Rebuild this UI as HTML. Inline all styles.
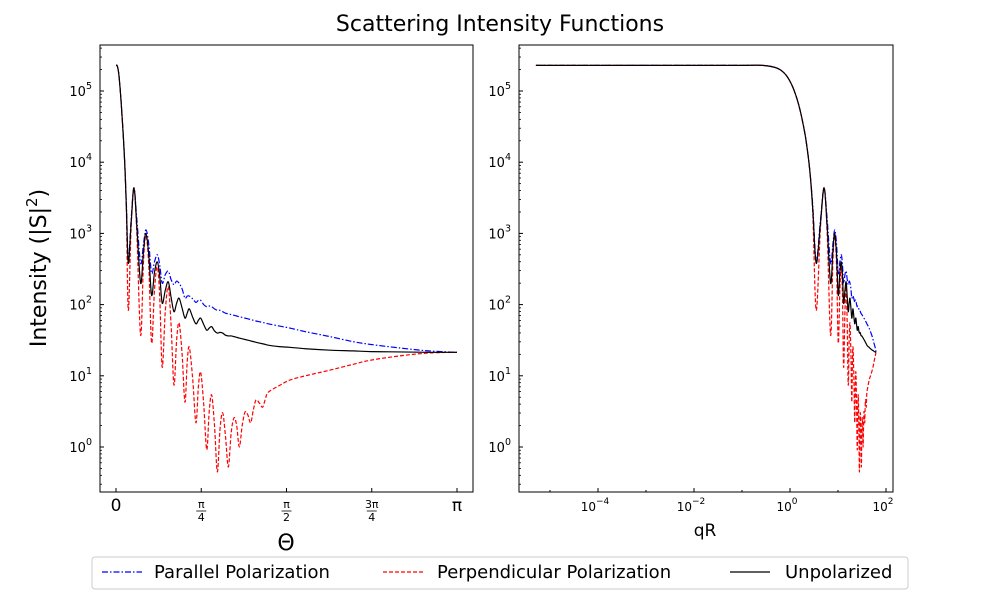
<!DOCTYPE html>
<html><head><meta charset="utf-8"><style>
body{margin:0;background:#fff;font-family:"Liberation Sans","DejaVu Sans",sans-serif}
svg text{font-family:"DejaVu Sans","Liberation Sans",sans-serif}
</style></head><body>
<svg id="chart" width="1000" height="600" viewBox="0 0 1000 600" xmlns="http://www.w3.org/2000/svg">
<rect width="1000" height="600" fill="#fff"/>
<text x="500" y="31" text-anchor="middle" font-size="22">Scattering Intensity Functions</text>
<text transform="translate(46,268) rotate(-90)" text-anchor="middle" font-size="22">Intensity (|S|<tspan font-size="15" dy="-9">2</tspan><tspan dy="9">)</tspan></text>
<text x="286" y="550" text-anchor="middle" font-size="22">Θ</text>
<text x="705" y="536" text-anchor="middle" font-size="17">qR</text>
<g id="left"></g>
<g id="right"></g>
<g>
<rect x="92" y="557" width="816" height="32" rx="3" fill="#fff" stroke="#ccc"/>
<g><line x1="102" y1="572" x2="142" y2="572" stroke="#00f" stroke-width="1.3" stroke-dasharray="6,2,1.5,2"/><text x="154" y="578" font-size="18">Parallel Polarization</text></g>
<g><line x1="383" y1="572" x2="423" y2="572" stroke="#f00" stroke-width="1.3" stroke-dasharray="4,2"/><text x="437" y="578" font-size="18">Perpendicular Polarization</text></g>
<g><line x1="730" y1="572" x2="770" y2="572" stroke="#000" stroke-width="1.3"/><text x="785" y="578" font-size="18">Unpolarized</text></g>
</g>
</svg>
<script>
const thetaDeg=[0.0000094,0.00005,0.0003,0.002,0.01,0.05,0.2,0.5,1,1.5,2,2.5,3,3.5,4,4.75,5.5,6.5,8,9.5,11,13,14.5,15.8,17.3,18.8,20.3,21.8,23.1,24.4,26,27.6,29.1,30.6,32,33.3,34.9,36.4,37.6,38.7,40.5,42.2,43.5,44.7,46.3,47.9,49.2,50.5,52,53.5,54.9,56.3,57.8,59.3,60.8,62.3,63.7,65.1,66.6,68.1,69.6,71.1,72.5,73.9,75.6,77.4,78.9,80.4,86,91.8,100,113,125,134.6,150,165,180];
const parLog=[5.36,5.36,5.36,5.36,5.36,5.36,5.36,5.36,5.32,5.23,5.09,4.92,4.73,4.52,4.3,3.9,3.4,2.62,3.2,3.64,3.2,2.58,2.85,3.05,2.85,2.44,2.6,2.7,2.55,2.3,2.42,2.47,2.35,2.28,2.33,2.3,2.22,2.09,2.12,2.12,2.08,2.03,2.06,2.06,2.0,1.97,1.98,1.97,1.94,1.92,1.92,1.9,1.88,1.87,1.86,1.85,1.84,1.83,1.82,1.81,1.8,1.79,1.78,1.77,1.76,1.75,1.74,1.73,1.7,1.67,1.62,1.55,1.48,1.44,1.39,1.35,1.33];
const perpLog=[5.36,5.36,5.36,5.36,5.36,5.36,5.36,5.36,5.32,5.23,5.09,4.92,4.73,4.52,4.3,3.9,3.3,1.92,3.1,3.64,3.0,1.57,2.6,2.97,2.55,1.46,2.2,2.53,2.1,1.12,1.9,2.25,1.7,0.87,1.5,1.74,1.3,0.63,1.2,1.40,0.95,0.34,0.85,1.05,0.6,-0.04,0.5,0.73,0.3,-0.35,0.25,0.48,0.15,-0.28,0.2,0.41,0.3,0.0,0.3,0.49,0.45,0.34,0.52,0.66,0.62,0.56,0.68,0.77,0.86,0.94,1.0,1.08,1.16,1.22,1.28,1.32,1.33];
const unpLog=[5.36,5.36,5.36,5.36,5.36,5.36,5.36,5.36,5.32,5.23,5.09,4.92,4.73,4.52,4.3,3.9,3.35,2.58,3.15,3.64,3.1,2.30,2.75,3.0,2.7,2.13,2.45,2.6,2.4,2.02,2.2,2.32,2.1,1.90,2.02,2.09,1.95,1.81,1.88,1.94,1.82,1.73,1.78,1.81,1.72,1.64,1.67,1.69,1.63,1.60,1.61,1.6,1.57,1.56,1.56,1.55,1.54,1.53,1.52,1.51,1.5,1.49,1.48,1.47,1.46,1.45,1.44,1.43,1.41,1.40,1.38,1.36,1.35,1.34,1.335,1.33,1.33];
const kR2=62;
const yTicks=[0,1,2,3,4,5];
const thetaTickLabels=["0","π/4","π/2","3π/4","π"];
const qrTicks=[-4,-2,0,2];

const NS="http://www.w3.org/2000/svg";
function mk(tag,attrs,parent){const e=document.createElementNS(NS,tag);for(const k in attrs)e.setAttribute(k,attrs[k]);parent.appendChild(e);return e;}
const yTop=45,yBot=492;
const yOf=v=>447-(v)*71.2;
const xL=d=>116+d/180*341;
const xR=q=>790+Math.log10(q)*48;
const qOf=d=>kR2*Math.sin(d*Math.PI/360);
function pathD(pts){let d="M"+pts[0][0].toFixed(2)+","+pts[0][1].toFixed(2);
 for(let i=0;i<pts.length-1;i++){const p0=pts[Math.max(0,i-1)],p1=pts[i],p2=pts[i+1],p3=pts[Math.min(pts.length-1,i+2)];
 const t=0.5/3;d+=" C"+(p1[0]+(p2[0]-p0[0])*t).toFixed(2)+","+(p1[1]+(p2[1]-p0[1])*t).toFixed(2)+" "+(p2[0]-(p3[0]-p1[0])*t).toFixed(2)+","+(p2[1]-(p3[1]-p1[1])*t).toFixed(2)+" "+p2[0].toFixed(2)+","+p2[1].toFixed(2);}
 return d;}
const series=[[parLog,"#00f","6,2,1.5,2","parallel-line"],[perpLog,"#f00","4,2","perpendicular-line"],[unpLog,"#000","","unpolarized-line"]];
function panel(g,x0,x1,xf,name){
 mk("rect",{x:x0,y:yTop,width:x1-x0,height:yBot-yTop,fill:"#fff"},g);
 const cid="clip"+name;const cp=mk("clipPath",{id:cid},g);mk("rect",{x:x0,y:yTop,width:x1-x0,height:yBot-yTop},cp);
 series.forEach(s=>{const pts=thetaDeg.map((d,i)=>[xf(d),yOf(s[0][i])]);
  const p=mk("path",{d:pathD(pts),fill:"none",stroke:s[1],"stroke-width":1.2,"clip-path":"url(#"+cid+")"},g);
  if(s[2])p.setAttribute("stroke-dasharray",s[2]);
  
  });
 yTicks.forEach(t=>{const y=yOf(t);mk("line",{x1:x0,y1:y,x2:x0+4,y2:y,stroke:"#000"},g);
  const tx=mk("text",{x:x0-8,y:y+5,"text-anchor":"end","font-size":13},g);tx.textContent="10";
  const sp=mk("tspan",{dy:-7,"font-size":9.5},tx);sp.textContent=String(t);
  
  
  for(let m=2;m<10;m++){const ym=yOf(t+Math.log10(m));if(ym>yTop&&ym<yBot)mk("line",{x1:x0,y1:ym,x2:x0+2,y2:ym,stroke:"#000","stroke-width":0.8},g);}
 });
 for(let m=2;m<10;m++){const ym=yOf(-1+Math.log10(m));if(ym>yTop&&ym<yBot)mk("line",{x1:x0,y1:ym,x2:x0+2,y2:ym,stroke:"#000","stroke-width":0.8},g);}
 mk("rect",{x:x0,y:yTop,width:x1-x0,height:yBot-yTop,fill:"none",stroke:"#000","stroke-width":1},g);
}
const L=document.getElementById("left"),R=document.getElementById("right");
panel(L,100,473,xL,"left");
panel(R,519,893,d=>xR(qOf(d)),"right");
thetaTickLabels.forEach((lab,i)=>{const x=xL(i*45);mk("line",{x1:x,y1:yBot,x2:x,y2:yBot-4,stroke:"#000"},L);
 let t;
 if(lab.includes("/")){const parts=lab.split("/");t=mk("text",{x:x,y:508,"text-anchor":"middle","font-size":11},L);t.textContent=parts[0];
  mk("line",{x1:x-5,y1:511,x2:x+5,y2:511,stroke:"#000","stroke-width":0.8},L);
  const t2=mk("text",{x:x,y:521,"text-anchor":"middle","font-size":11},L);t2.textContent=parts[1];}
 else{t=mk("text",{x:x,y:511,"text-anchor":"middle","font-size":17},L);t.textContent=lab;}
 
 });
for(let e=-5;e<=2;e++){const x=xR(Math.pow(10,e));if(x<519||x>893)continue;const major=qrTicks.includes(e);
 mk("line",{x1:x,y1:yBot,x2:x,y2:yBot-(major?4:2),stroke:"#000"},R);
 if(major){const t=mk("text",{x:x-3,y:511,"text-anchor":"middle","font-size":12},R);t.textContent="10";
  const sp=mk("tspan",{dy:-7,"font-size":9},t);sp.textContent=String(e).replace("-","−");
  
  }}
</script>
</body></html>
